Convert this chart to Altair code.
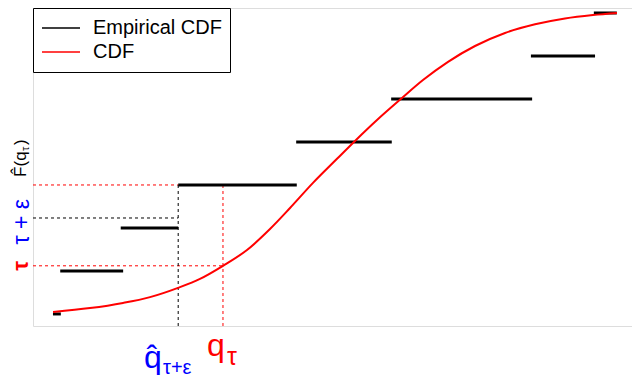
import altair as alt
import pandas as pd

# ---- data (x in arbitrary units, y = probability) ----
step_x0 = [0.33, 0.45, 1.45, 2.40, 4.35, 5.92, 8.23, 9.27]
step_x1 = [0.46, 1.49, 2.40, 4.36, 5.93, 8.25, 9.29, 9.65]
step_y = [0.125, 0.25, 0.375, 0.5, 0.625, 0.75, 0.875, 1.0]

cdf_x = [0.331, 0.942, 1.488, 1.934, 2.397, 2.760, 3.140, 3.537, 3.917, 4.248,
         4.628, 5.025, 5.339, 5.686, 6.099, 6.446, 6.860, 7.306, 7.802, 8.298,
         8.793, 9.256, 9.653]
cdf_y = [0.131, 0.142, 0.157, 0.174, 0.201, 0.227, 0.265, 0.311, 0.372, 0.433,
         0.506, 0.576, 0.631, 0.689, 0.753, 0.805, 0.858, 0.904, 0.942, 0.967,
         0.984, 0.994, 1.000]

tau = 0.265
tau_eps = 0.404
f_hat = 0.5
q_tau = 3.14
q_hat = 2.40

x_domain = [0, 9.9008]
y_domain = [0.09, 1.0145]

series_names = ["Empirical CDF", "CDF"]
series_colors = ["black", "red"]

FONT = "Liberation Sans"

steps = pd.DataFrame({"x": step_x0, "x2": step_x1, "y": step_y,
                      "series": ["Empirical CDF"] * len(step_y)})
curve = pd.DataFrame({"x": cdf_x, "y": cdf_y, "series": ["CDF"] * len(cdf_x)})

guides = pd.DataFrame({
    "x": [x_domain[0], x_domain[0], q_tau, x_domain[0], q_hat],
    "x2": [q_tau, q_hat, q_tau, q_hat, q_hat],
    "y": [tau, f_hat, y_domain[0], tau_eps, y_domain[0]],
    "y2": [tau, f_hat, f_hat, tau_eps, f_hat],
    "c": ["red", "red", "red", "black", "black"],
})

xs = alt.Scale(domain=x_domain, nice=False, zero=False)
ys = alt.Scale(domain=y_domain, nice=False, zero=False)
cs = alt.Scale(domain=series_names, range=series_colors)

legend = alt.Legend(
    title=None, orient="none", legendX=0, legendY=0,
    symbolType="stroke", symbolSize=1444, symbolStrokeWidth=1.5,
    clipHeight=24, rowPadding=0, labelOffset=12, labelFontSize=20,
    labelFont=FONT, labelColor="black", padding=8,
    strokeColor="black", fillColor="white",
    labelExpr="datum.label + '\u00a0\u00a0'",
)

guide_layer = alt.Chart(guides).mark_rule(strokeWidth=1, strokeDash=[3, 3]).encode(
    x=alt.X("x:Q", scale=xs, axis=None),
    x2="x2:Q",
    y=alt.Y("y:Q", scale=ys, axis=None),
    y2="y2:Q",
    color=alt.Color("c:N", scale=None),
)

step_layer = alt.Chart(steps).mark_rule(strokeWidth=3, strokeCap="butt").encode(
    x=alt.X("x:Q", scale=xs, axis=None),
    x2="x2:Q",
    y=alt.Y("y:Q", scale=ys, axis=None),
    color=alt.Color("series:N", scale=cs, legend=legend),
)

curve_layer = alt.Chart(curve).mark_line(strokeWidth=2, interpolate="monotone").encode(
    x=alt.X("x:Q", scale=xs, axis=None),
    y=alt.Y("y:Q", scale=ys, axis=None),
    color=alt.Color("series:N", scale=cs, legend=legend),
)


# ---- annotation texts (positions in data units) ----
def text_layer(x, y, t, c, **kw):
    df = pd.DataFrame({"x": [x], "y": [y], "t": [t], "c": [c]})
    return alt.Chart(df).mark_text(font=FONT, **kw).encode(
        x=alt.X("x:Q", scale=xs, axis=None),
        y=alt.Y("y:Q", scale=ys, axis=None),
        text="t:N",
        color=alt.Color("c:N", scale=None),
    )


tau_lbl = text_layer(-0.076, tau, "τ", "red", angle=270, align="center",
                     baseline="alphabetic", fontSize=22, fontWeight="bold")
taueps_lbl = text_layer(-0.066, 0.393, "τ + ε", "blue",
                        angle=270, align="center", baseline="alphabetic", fontSize=23)

fhat_main = text_layer(-0.116, 0.5235, "F\u0302(q", "black",
                       angle=270, align="left", baseline="alphabetic", fontSize=17)
fhat_sub = text_layer(-0.066, 0.5988, "τ", "black",
                      angle=270, align="left", baseline="alphabetic", fontSize=11)
fhat_close = text_layer(-0.116, 0.6163, ")", "black",
                        angle=270, align="left", baseline="alphabetic", fontSize=17)

qhat_main = text_layer(1.835, -0.032, "q\u0302", "blue",
                       align="left", baseline="alphabetic", fontSize=32)
qhat_sub = text_layer(2.149, -0.0494, "τ+ε", "blue",
                      align="left", baseline="alphabetic", fontSize=20)
q_main = text_layer(2.876, 0.0029, "q", "red",
                    align="left", baseline="alphabetic", fontSize=32)
q_sub = text_layer(3.207, -0.0233, "τ", "red",
                   align="left", baseline="alphabetic", fontSize=25)

chart = alt.layer(
    guide_layer, step_layer, curve_layer,
    tau_lbl, taueps_lbl, fhat_main, fhat_sub, fhat_close,
    qhat_main, qhat_sub, q_main, q_sub,
).properties(
    width=599, height=318,
    autosize=alt.AutoSizeParams(type="none"),
    padding={"left": 25, "top": 0, "right": 0, "bottom": 56},
).configure_view(
    stroke="black", strokeWidth=1,
).configure(
    background="white",
)

chart.save("out.html", embed_options={"renderer": "svg", "actions": False})
